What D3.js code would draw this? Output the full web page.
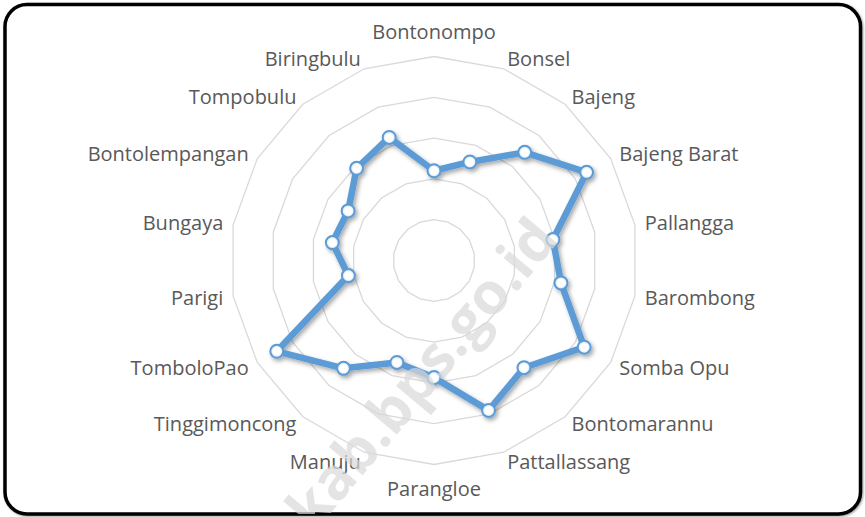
<!DOCTYPE html>
<html>
<head>
<meta charset="utf-8">
<script src="https://cdn.jsdelivr.net/npm/d3@7"></script>
<style>
  body { margin: 0; background: #fff; }
  svg { display: block; }
</style>
</head>
<body>
<svg id="radar" width="865" height="517"></svg>
<script>
// kecamatan names, clockwise from the top
var categories = ["Bontonompo", "Bonsel", "Bajeng", "Bajeng Barat", "Pallangga", "Barombong",
  "Somba Opu", "Bontomarannu", "Pattallassang", "Parangloe", "Manuju", "Tinggimoncong",
  "TomboloPao", "Parigi", "Bungaya", "Bontolempangan", "Tompobulu", "Biringbulu"];

// values (rings are at 10, 20, 30, 40, 50)
var values = [22.0, 25.7, 34.6, 43.2, 29.6, 31.6, 42.5, 34.3, 39.1, 28.7,
  26.6, 34.5, 44.5, 21.3, 25.3, 24.3, 29.5, 32.1];

var ringTicks = [10, 20, 30, 40, 50];

var svg = d3.select("#radar"),
    cx = 434, cy = 260.5,
    outerR = 204;

var defs = svg.append("defs");

// shadow under the line and markers
var shadow = defs.append("filter").attr("id", "shadow")
    .attr("x", "-20%").attr("y", "-20%").attr("width", "140%").attr("height", "140%");
shadow.append("feDropShadow")
    .attr("dx", 2).attr("dy", 2.5).attr("stdDeviation", 2)
    .attr("flood-color", "#000").attr("flood-opacity", 0.35);

var boxShadow = defs.append("filter").attr("id", "boxShadow");
boxShadow.append("feDropShadow")
    .attr("dx", 1).attr("dy", 1).attr("stdDeviation", 1)
    .attr("flood-color", "#000").attr("flood-opacity", 0.4);

// white marker with a soft blue rim
var grad = defs.append("radialGradient").attr("id", "markerFill");
grad.append("stop").attr("offset", "55%").attr("stop-color", "#ffffff");
grad.append("stop").attr("offset", "100%").attr("stop-color", "#c9dcf0");

defs.append("clipPath").attr("id", "boxClip")
  .append("rect")
    .attr("x", 5).attr("y", 4.5).attr("width", 855.5).attr("height", 509.5)
    .attr("rx", 22).attr("ry", 22);

// chart border
svg.append("rect")
    .attr("x", 5).attr("y", 4.5)
    .attr("width", 855.5).attr("height", 509.5)
    .attr("rx", 22).attr("ry", 22)
    .attr("fill", "#fff")
    .attr("stroke", "#000")
    .attr("stroke-width", 3.5)
    .attr("filter", "url(#boxShadow)");

var r = d3.scaleLinear().domain([0, 50]).range([0, outerR]);
var angle = d3.scalePoint().domain(categories).range([0, 2 * Math.PI * (1 - 1 / categories.length)]);

var g = svg.append("g").attr("transform", "translate(" + cx + "," + cy + ")");

// gridlines: polygons with one vertex per category
var ring = d3.lineRadial()
    .angle(function(d) { return angle(d); })
    .curve(d3.curveLinearClosed);

g.append("g").attr("class", "grid")
  .selectAll("path")
  .data(ringTicks)
  .enter().append("path")
    .attr("d", function(t) { return ring.radius(r(t))(categories); })
    .attr("fill", "none")
    .attr("stroke", "#d9d9d9")
    .attr("stroke-width", 1.3);

// watermark
svg.append("g").attr("clip-path", "url(#boxClip)")
  .append("text")
    .attr("transform", "translate(560,240) rotate(-50)")
    .attr("text-anchor", "end")
    .attr("font-family", "'Open Sans', sans-serif")
    .attr("font-weight", "bold")
    .attr("font-size", 58)
    .attr("fill", "#d9d9d9")
    .attr("fill-opacity", 0.7)
    .text("gowakab.bps.go.id");

// category labels
var labels = g.append("g")
    .attr("font-family", "'Open Sans', sans-serif")
    .attr("font-size", 20)
    .attr("fill", "#595959");

labels.selectAll("text")
  .data(categories)
  .enter().append("text")
    .attr("x", function(d) { return Math.sin(angle(d)) * (outerR + 10); })
    .attr("y", function(d) {
      var c = Math.cos(angle(d)), y = -c * (outerR + 10);
      if (Math.abs(Math.sin(angle(d))) < 0.1) y -= c * 14.7;
      return y;
    })
    .attr("dy", "0.35em")
    .attr("text-anchor", function(d) {
      var s = Math.sin(angle(d));
      return s > 0.1 ? "start" : (s < -0.1 ? "end" : "middle");
    })
    .text(function(d) { return d; });

// the series
var series = categories.map(function(c, i) { return {key: c, value: values[i]}; });

var line = d3.lineRadial()
    .angle(function(d) { return angle(d.key); })
    .radius(function(d) { return r(d.value); })
    .curve(d3.curveLinearClosed);

var seriesG = g.append("g").attr("filter", "url(#shadow)");

seriesG.append("path")
    .datum(series)
    .attr("d", line)
    .attr("fill", "none")
    .attr("stroke", "#5b9bd5")
    .attr("stroke-width", 6.5)
    .attr("stroke-linejoin", "round");

seriesG.selectAll("circle")
  .data(series)
  .enter().append("circle")
    .attr("cx", function(d) { return Math.sin(angle(d.key)) * r(d.value); })
    .attr("cy", function(d) { return -Math.cos(angle(d.key)) * r(d.value); })
    .attr("r", 6.5)
    .attr("fill", "url(#markerFill)")
    .attr("stroke", "#5b9bd5")
    .attr("stroke-width", 2);
</script>
</body>
</html>
